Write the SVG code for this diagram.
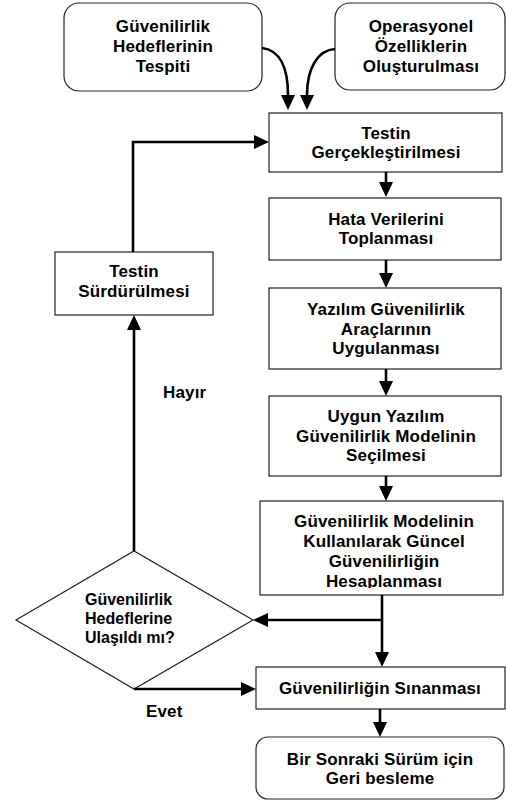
<svg xmlns="http://www.w3.org/2000/svg" width="506" height="800" viewBox="0 0 506 800">
<style>
text{font-family:"Liberation Sans",Arial,Helvetica,sans-serif;font-weight:bold;font-size:17px;letter-spacing:0.15px;fill:#000;text-anchor:middle}
.box{fill:#fff;stroke:#222;stroke-width:1.2}
.con{fill:none;stroke:#000;stroke-width:2.6}
.lbl{text-anchor:start}
.dt{font-size:16px;letter-spacing:0;text-anchor:start}
</style>
<defs>
<marker id="ah" viewBox="0 0 15 14" refX="0" refY="7" markerWidth="15" markerHeight="14" markerUnits="userSpaceOnUse" orient="auto">
<path d="M0,0 L15,7 L0,14 z" fill="#000"/>
</marker>
<clipPath id="clipH"><rect x="260" y="570" width="243" height="18"/></clipPath>
</defs>
<g id="n_hedef">
<rect class="box" x="64" y="3" width="198" height="88" rx="15"/>
<text x="163" y="32">Güvenilirlik</text>
<text x="163" y="52">Hedeflerinin</text>
<text x="163" y="72">Tespiti</text>
</g>
<g id="n_operasyonel">
<rect class="box" x="335" y="3" width="170" height="87" rx="15"/>
<text x="421" y="32">Operasyonel</text>
<text x="421" y="52">Özelliklerin</text>
<text x="421" y="72">Oluşturulması</text>
</g>
<g id="n_testin">
<rect class="box" x="269" y="113" width="233" height="59"/>
<text x="386" y="139">Testin</text>
<text x="386" y="158">Gerçekleştirilmesi</text>
</g>
<g id="n_hata">
<rect class="box" x="269" y="198" width="232" height="62"/>
<text x="386" y="225">Hata Verilerini</text>
<text x="386" y="244">Toplanması</text>
</g>
<g id="n_arac">
<rect class="box" x="269" y="288" width="232" height="81"/>
<text x="386" y="315">Yazılım Güvenilirlik</text>
<text x="386" y="335">Araçlarının</text>
<text x="386" y="354">Uygulanması</text>
</g>
<g id="n_secim">
<rect class="box" x="269" y="396" width="232" height="80"/>
<text x="386" y="422">Uygun Yazılım</text>
<text x="386" y="442">Güvenilirlik Modelinin</text>
<text x="386" y="461">Seçilmesi</text>
</g>
<g id="n_hesap">
<rect class="box" x="260" y="501" width="243" height="94"/>
<text x="384" y="527">Güvenilirlik Modelinin</text>
<text x="384" y="547">Kullanılarak Güncel</text>
<text x="384" y="567">Güvenilirliğin</text>
<text x="384" y="587" clip-path="url(#clipH)">Hesaplanması</text>
</g>
<g id="n_surdur">
<rect class="box" x="55" y="252" width="158" height="63"/>
<text x="134" y="277">Testin</text>
<text x="134" y="297">Sürdürülmesi</text>
</g>
<g id="n_karar">
<polygon class="box" points="16,620 134,551 253,620 134,689"/>
<text class="dt" x="85" y="605">Güvenilirlik</text>
<text class="dt" x="85" y="624">Hedeflerine</text>
<text class="dt" x="85" y="643">Ulaşıldı mı?</text>
</g>
<g id="n_sinama">
<rect class="box" x="256" y="667" width="249" height="42"/>
<text x="380" y="694">Güvenilirliğin Sınanması</text>
</g>
<g id="n_geri">
<rect class="box" x="256" y="737" width="248" height="62" rx="12"/>
<text x="380" y="765">Bir Sonraki Sürüm için</text>
<text x="380" y="784">Geri besleme</text>
</g>
<g id="connectors">
<path class="con" d="M262,48 C280,50 288,68 288,95" marker-end="url(#ah)"/>
<path class="con" d="M335,49 C318,50 307,68 307,95" marker-end="url(#ah)"/>
<path class="con" d="M133,252 L133,142 L254,142" marker-end="url(#ah)"/>
<path class="con" d="M386,172 L386,182" marker-end="url(#ah)"/>
<path class="con" d="M386,260 L386,273" marker-end="url(#ah)"/>
<path class="con" d="M386,369 L386,381" marker-end="url(#ah)"/>
<path class="con" d="M386,476 L386,486" marker-end="url(#ah)"/>
<path class="con" d="M382,595 L382,652" marker-end="url(#ah)"/>
<path class="con" d="M383,620 L268,620" marker-end="url(#ah)"/>
<path class="con" d="M134,551 L134,330" marker-end="url(#ah)"/>
<path class="con" d="M134,689 L241,689" marker-end="url(#ah)"/>
<path class="con" d="M380,709 L380,722" marker-end="url(#ah)"/>
<text class="lbl" x="163" y="398">Hayır</text>
<text class="lbl" x="146" y="717">Evet</text>
</g>
</svg>
